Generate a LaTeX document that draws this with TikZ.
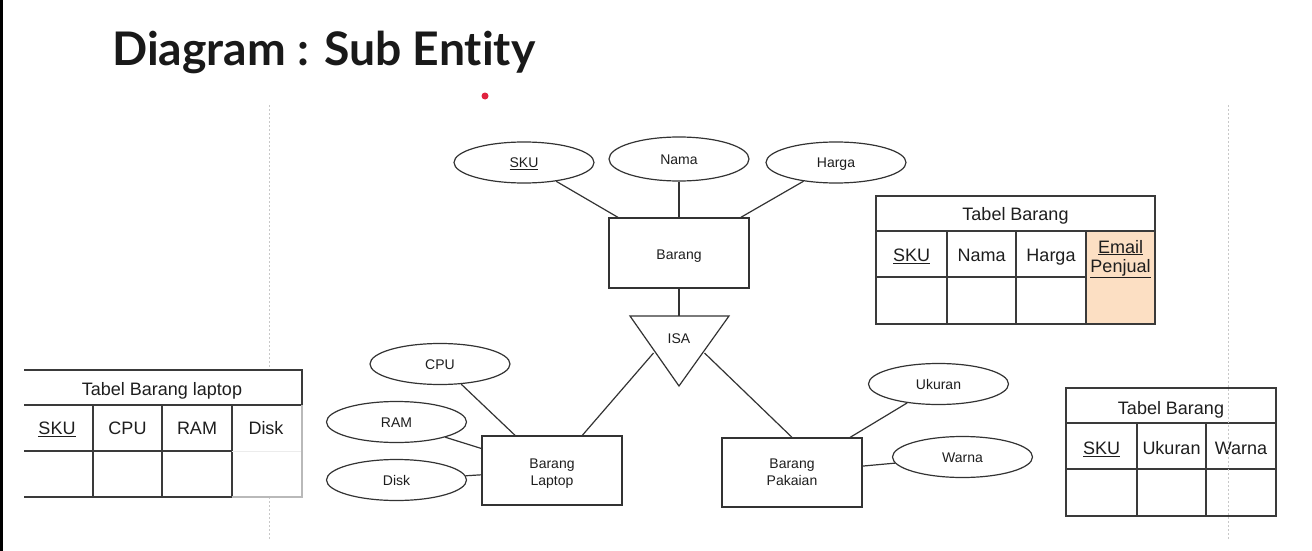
\documentclass[tikz,border=0pt]{standalone}
\usepackage{fontspec}
\setmainfont{Liberation Sans}
\newfontfamily\titlefont{Lato}[Ligatures=NoCommon]
\usetikzlibrary{shapes.geometric}
\definecolor{linec}{HTML}{333333}
\definecolor{tabc}{HTML}{3A3A3A}
\definecolor{peach}{HTML}{FCDFC3}
\definecolor{guidec}{HTML}{C8C8C8}
\definecolor{reddot}{HTML}{E0223F}
\definecolor{textc}{HTML}{1E1E1E}
\tikzset{
  attr/.style={ellipse, draw=linec, line width=1.2pt, minimum width=140pt, minimum height=41pt, inner sep=0pt, text height=10pt, text depth=0pt, text=textc, font=\fontsize{14}{16}\selectfont},
  ent/.style={rectangle, draw=linec, line width=1.3pt, minimum width=140pt, minimum height=70pt, inner sep=0pt, align=center, text=textc, font=\fontsize{14}{17}\selectfont},
  enttext/.style={inner sep=0pt, align=center, text=textc, font=\fontsize{14}{17}\selectfont},
  conn/.style={draw=linec, line width=1.2pt},
  cell/.style={font=\fontsize{18}{20}\selectfont, inner sep=0pt, align=center, text height=13pt, text depth=0pt, text=textc},
  gridline/.style={draw=tabc, line width=1.5pt},
  guide/.style={draw=guidec, line width=1pt, dash pattern=on 2pt off 2pt}
}
\begin{document}
\begin{tikzpicture}[x=1pt,y=-1pt]
\useasboundingbox (0,0) rectangle (1312,551);
\fill[white] (0,0) rectangle (1312,551);
\fill[black] (0,0) rectangle (2.5,551);

% title
\node[anchor=base west, inner sep=0pt, font=\titlefont\bfseries\fontsize{46.3}{48}\selectfont, text=black!90] (title) at (112,66) {Diagram : Sub Entity};
\fill[reddot] (485,96) circle (3.5);

% guides
\draw[guide] (269,105) -- (269,540);

% ER diagram
\node[attr] (sku) at (524,162.5) {\underline{SKU}};
\node[attr, minimum height=44pt] (nama) at (679,159) {Nama};
\node[attr] (harga) at (836,162.5) {Harga};
\node[ent, text height=16pt] (barang) at (679,253) {Barang};
\draw[conn] (sku) -- (barang);
\draw[conn] (nama) -- (barang);
\draw[conn] (harga) -- (barang);

\coordinate (isaA) at (630,316);
\coordinate (isaB) at (729,316);
\coordinate (isaC) at (679,386);
\draw[conn, line join=miter] (isaA) -- (isaB) -- (isaC) -- cycle;
\node[font=\fontsize{14}{16}\selectfont, inner sep=0pt, text=textc] (isa) at (679,339) {ISA};
\coordinate (isaTop) at (679,316);
\coordinate (isaL) at (653.5,353);
\coordinate (isaR) at (704.5,353);
\draw[conn] (barang) -- (isaTop);

\node[ent, minimum height=69pt] (laptop) at (552,470.5) {};
\node[enttext] (laptoptext) at (552,473.5) {Barang\\Laptop};
\node[ent, minimum height=69pt] (pakaian) at (792,472.5) {};
\node[enttext] (pakaiantext) at (792,472.5) {Barang\\Pakaian};
\draw[conn] (isaL) -- (laptop);
\draw[conn] (isaR) -- (pakaian.north);

\node[attr] (cpu) at (440,364) {CPU};
\node[attr] (ram) at (396.5,422) {RAM};
\node[attr] (disk) at (396.5,480) {Disk};
\draw[conn] (cpu) -- (laptop);
\draw[conn] (ram) -- (laptop);
\draw[conn] (disk) -- (laptop);

\node[attr] (ukuran) at (938.5,384) {Ukuran};
\node[attr] (warna) at (962.5,457) {Warna};
\draw[conn] (ukuran) -- (pakaian);
\draw[conn] (warna) -- (pakaian);

% Tabel Barang (top right)
\fill[peach] (1086,231) rectangle (1155,324);
\draw[gridline] (876,196) rectangle (1155,324);
\draw[gridline] (876,231) -- (1155,231);
\draw[gridline] (876,277) -- (1086,277);
\draw[gridline] (947,231) -- (947,324);
\draw[gridline] (1016,231) -- (1016,324);
\draw[gridline] (1086,231) -- (1086,324);
\node[cell] (tbT) at (1015.5,214) {Tabel Barang};
\node[cell] (tbS) at (911.5,255) {\underline{SKU}};
\node[cell] (tbN) at (981.5,255) {Nama};
\node[cell] (tbH) at (1051,255) {Harga};
\node[cell] (tbE1) at (1120.5,246.5) {\underline{Email}};
\node[cell] (tbE2) at (1120.5,266) {\underline{Penjual}};

% Tabel Barang laptop (left)
\fill[white] (24,370) rectangle (302,497);
\draw[gridline] (24,370) -- (302,370) -- (302,405);
\draw[gridline] (24,405) -- (302,405);
\draw[gridline] (24,451) -- (232,451);
\draw[gridline] (24,497) -- (232,497);
\draw[gridline] (93,405) -- (93,497);
\draw[gridline] (162,405) -- (162,497);
\draw[gridline] (232,405) -- (232,497);
\draw[draw=gray!15, line width=1pt] (232,451) -- (302,451);
\draw[draw=gray!55, line width=1.2pt] (232,497) -- (302,497) -- (302,405);
\node[cell] (tlT) at (162,389) {Tabel Barang laptop};
\node[cell] (tlS) at (57,428) {\underline{SKU}};
\node[cell] (tlC) at (127.5,428) {CPU};
\node[cell] (tlR) at (197,428) {RAM};
\node[cell] (tlD) at (266,428) {Disk};

% Tabel Barang (bottom right)
\draw[gridline] (1066,388) rectangle (1276,516);
\draw[gridline] (1066,423) -- (1276,423);
\draw[gridline] (1066,469) -- (1276,469);
\draw[gridline] (1137,423) -- (1137,516);
\draw[gridline] (1206,423) -- (1206,516);
\node[cell] (tpT) at (1171,408) {Tabel Barang};
\node[cell] (tpS) at (1101.5,448) {\underline{SKU}};
\node[cell] (tpU) at (1171.5,448) {Ukuran};
\node[cell] (tpW) at (1241,448) {Warna};

\draw[guide] (1228,105) -- (1228,540);
\end{tikzpicture}
\end{document}
